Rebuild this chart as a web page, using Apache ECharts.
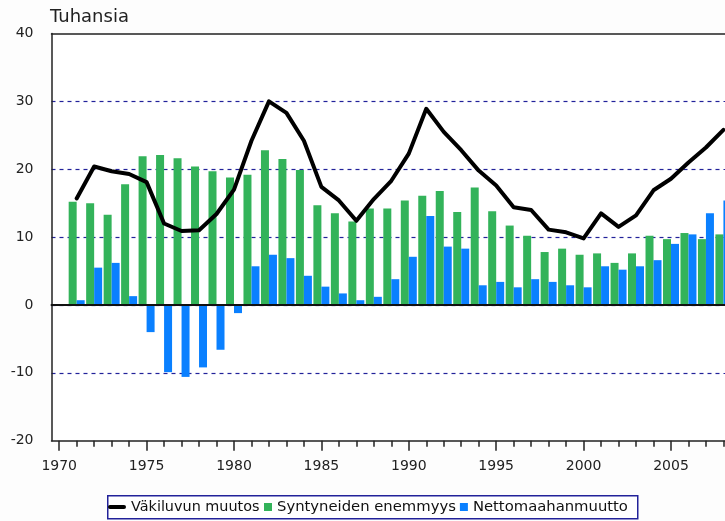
<!DOCTYPE html>
<html>
<head>
<meta charset="utf-8">
<script src="https://cdn.jsdelivr.net/npm/echarts@6/dist/echarts.min.js"></script>
<style>
  html, body { margin: 0; padding: 0; background: #fdfdfd; }
  #chart { width: 725px; height: 521px; }
</style>
</head>
<body>
<div id="chart"></div>
<script>
// vuodet ja arvot (tuhansia)
const years = [1971, 1972, 1973, 1974, 1975, 1976, 1977, 1978, 1979, 1980,
               1981, 1982, 1983, 1984, 1985, 1986, 1987, 1988, 1989, 1990,
               1991, 1992, 1993, 1994, 1995, 1996, 1997, 1998, 1999, 2000,
               2001, 2002, 2003, 2004, 2005, 2006, 2007, 2008];
const vakiluvunMuutos = [15.7, 20.4, 19.7, 19.3, 18.1, 12.0, 10.9, 11.0, 13.4, 17.0,
                         24.2, 30.0, 28.3, 24.2, 17.4, 15.4, 12.4, 15.6, 18.3, 22.3,
                         28.9, 25.5, 22.8, 19.8, 17.6, 14.4, 14.0, 11.1, 10.7, 9.8,
                         13.5, 11.5, 13.2, 16.9, 18.6, 21.0, 23.2, 25.8];
const syntyneidenEnemmyys = [15.2, 15.0, 13.3, 17.8, 21.9, 22.1, 21.6, 20.4, 19.7, 18.8,
                             19.2, 22.8, 21.5, 19.9, 14.7, 13.5, 12.3, 14.2, 14.2, 15.4,
                             16.1, 16.8, 13.7, 17.3, 13.8, 11.7, 10.2, 7.8, 8.3, 7.4,
                             7.6, 6.2, 7.6, 10.2, 9.7, 10.6, 9.7, 10.4];
const nettomaahanmuutto = [0.7, 5.5, 6.2, 1.3, -4.0, -9.9, -10.6, -9.2, -6.6, -1.2,
                           5.7, 7.4, 6.9, 4.3, 2.7, 1.7, 0.7, 1.2, 3.8, 7.1,
                           13.1, 8.6, 8.3, 2.9, 3.4, 2.6, 3.8, 3.4, 2.9, 2.6,
                           5.7, 5.2, 5.7, 6.6, 9.0, 10.4, 13.5, 15.4];
const labelYears = [1970, 1975, 1980, 1985, 1990, 1995, 2000, 2005];
const tickYears = [1970].concat(years);

const font = 'DejaVu Sans';
const green = '#33b35a';
const blue = '#0a80ff';
const navy = '#22229a';

const pairs = arr => years.map((y, i) => [y, arr[i]]);

const chart = echarts.init(document.getElementById('chart'));

const xBase = {
    type: 'value',
    min: 1969.56,
    max: 2008.09,
    splitLine: { show: false },
    axisLabel: { show: false },
    axisTick: { show: false },
    axisLine: { show: false }
};

const option = {
    backgroundColor: '#fdfdfd',
    animation: false,
    title: {
        text: 'Tuhansia',
        left: 50,
        top: 8,
        padding: 0,
        textStyle: { fontFamily: font, fontSize: 18, fontWeight: 'normal', color: '#222' }
    },
    grid: {
        left: 51.5,
        right: 0,
        top: 33.5,
        bottom: 80.3,
        show: true,
        backgroundColor: '#fff',
        borderWidth: 0
    },
    graphic: [{
        type: 'rect',
        left: 107,
        top: 495,
        z: 1,
        shape: { width: 530, height: 23 },
        style: { fill: '#fff', stroke: navy, lineWidth: 1.5 }
    }],
    legend: [
        {
            data: [{
                name: 'Väkiluvun muutos',
                icon: 'path://M2,0H16A2,2 0 0 1 16,4H2A2,2 0 0 1 2,0Z'
            }],
            left: 108,
            top: 499,
            padding: 0,
            itemWidth: 18,
            itemHeight: 8,
            textStyle: { fontFamily: font, fontSize: 14.4, color: '#111', lineHeight: 16 }
        },
        {
            data: ['Syntyneiden enemmyys', 'Nettomaahanmuutto'],
            left: 264,
            top: 499,
            padding: 0,
            icon: 'rect',
            itemWidth: 8,
            itemHeight: 8,
            itemGap: 4,
            textStyle: { fontFamily: font, fontSize: 14.8, color: '#111', lineHeight: 16 }
        }
    ],
    xAxis: [
        Object.assign({}, xBase, {
            position: 'bottom',
            axisLine: { show: true, onZero: false, lineStyle: { color: '#222', width: 1.5 } },
            axisTick: { show: true, customValues: labelYears, length: 10, lineStyle: { color: '#222', width: 1.5 } },
            axisLabel: { show: true, customValues: labelYears, margin: 19,
                         formatter: v => String(v),
                         fontFamily: font, fontSize: 14, color: '#222' }
        }),
        Object.assign({}, xBase, {
            position: 'bottom',
            axisLine: { show: false, onZero: false },
            axisTick: { show: true, customValues: tickYears, length: 6, lineStyle: { color: '#222', width: 1.5 } }
        }),
        Object.assign({}, xBase, {
            z: 5,
            axisLine: { show: true, onZero: true, lineStyle: { color: '#111', width: 2 } }
        }),
        Object.assign({}, xBase, {
            position: 'top',
            axisLine: { show: true, onZero: false, lineStyle: { color: '#222', width: 1.5 } }
        })
    ],
    yAxis: {
        type: 'value',
        min: -20,
        max: 40,
        interval: 10,
        axisLine: { show: true, lineStyle: { color: '#222', width: 1.5 } },
        axisTick: { show: false },
        axisLabel: { margin: 18, fontFamily: font, fontSize: 14, color: '#222' },
        splitLine: {
            show: true,
            showMinLine: false,
            showMaxLine: false,
            lineStyle: { color: navy, type: [4, 4], width: 1.2 }
        }
    },
    series: [
        {
            name: 'Syntyneiden enemmyys',
            type: 'bar',
            data: pairs(syntyneidenEnemmyys),
            barWidth: 8,
            barGap: '0%',
            itemStyle: { color: green }
        },
        {
            name: 'Nettomaahanmuutto',
            type: 'bar',
            data: pairs(nettomaahanmuutto),
            barWidth: 8,
            barGap: '0%',
            itemStyle: { color: blue }
        },
        {
            name: 'Väkiluvun muutos',
            type: 'line',
            data: pairs(vakiluvunMuutos),
            z: 6,
            symbol: 'none',
            lineStyle: { color: '#000', width: 4, join: 'round', cap: 'round' },
            itemStyle: { color: '#000' }
        }
    ]
};

chart.setOption(option);
</script>
</body>
</html>
